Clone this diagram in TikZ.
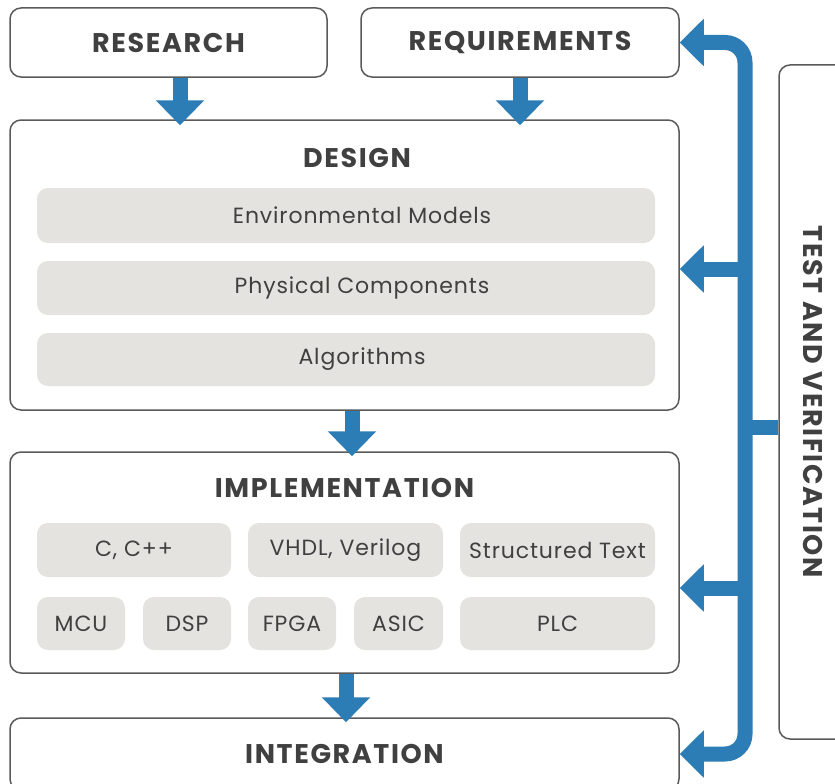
\documentclass[tikz,border=0pt]{standalone}
\usepackage{fontspec}
\setmainfont{Poppins}
\newfontfamily\titleFont{Poppins}[LetterSpace=6]
\newfontfamily\pillFont{Poppins}[LetterSpace=4]
\usetikzlibrary{arrows.meta}

\definecolor{flowBlue}{RGB}{44,125,181}
\definecolor{lineGray}{RGB}{90,90,90}
\definecolor{pillGray}{RGB}{228,227,223}
\definecolor{textGray}{RGB}{64,64,64}

\begin{document}
\begin{tikzpicture}[
    x=1pt, y=-1pt, every node/.style={text=textGray, inner sep=0pt},
    stageBox/.style={draw=lineGray, line width=1.5pt, rounded corners=11pt, fill=white},
    stageTitle/.style={font=\fontsize{27}{31}\titleFont\bfseries},
    pillNode/.style={fill=pillGray, rounded corners=11pt, font=\fontsize{22}{26}\pillFont},
    pillShift/.style={execute at begin node=\hspace*{32pt}},
    flow/.style={draw=flowBlue, line width=15pt},
    tipDown/.style={-{Triangle[width=47pt, length=25pt]}},
    tipBoth/.style={{Triangle[width=46pt, length=24pt]}-{Triangle[width=46pt, length=24pt]}}
]
    \clip (0,0) rectangle (835,784);
    \fill[white] (0,0) rectangle (835,784);

    % top row
    \node[stageBox, stageTitle, minimum width=317pt, minimum height=69pt] (research) at (168.5,42.5) {RESEARCH};
    \node[stageBox, stageTitle, minimum width=318pt, minimum height=69pt] (requirements) at (520,42.5) {REQUIREMENTS};

    % design
    \node[stageBox, minimum width=669pt, minimum height=290pt] (design) at (344.5,265) {};
    \node[stageTitle] (designTitle) at (357,158) {DESIGN};
    \node[pillNode, pillShift, minimum width=618pt, minimum height=55pt] (envModels) at (346,215.5) {Environmental Models};
    \node[pillNode, pillShift, minimum width=618pt, minimum height=54pt] (physComp) at (346,288) {Physical Components};
    \node[pillNode, pillShift, minimum width=618pt, minimum height=53pt] (algorithms) at (346,359.5) {Algorithms};

    % implementation
    \node[stageBox, minimum width=669pt, minimum height=221pt] (impl) at (344.5,562.5) {};
    \node[stageTitle] (implTitle) at (344.5,488) {IMPLEMENTATION};
    \node[pillNode, minimum width=194pt, minimum height=54pt] (cLang) at (134,550) {C, C++};
    \node[pillNode, minimum width=195pt, minimum height=54pt] (hdl) at (345.5,550) {VHDL, Verilog};
    \node[pillNode, minimum width=195pt, minimum height=54pt] (stText) at (557.5,550) {Structured Text};
    \node[pillNode, minimum width=88pt, minimum height=53pt] (mcu) at (81,623.5) {MCU};
    \node[pillNode, minimum width=88pt, minimum height=53pt] (dsp) at (187,623.5) {DSP};
    \node[pillNode, minimum width=88pt, minimum height=53pt] (fpga) at (292,623.5) {FPGA};
    \node[pillNode, minimum width=89pt, minimum height=53pt] (asic) at (398.5,623.5) {ASIC};
    \node[pillNode, minimum width=195pt, minimum height=53pt] (plc) at (557.5,623.5) {PLC};

    % integration + test
    \node[stageBox, stageTitle, minimum width=669pt, minimum height=72pt] (integration) at (344.5,754) {INTEGRATION};
    \node[stageBox, minimum width=68pt, minimum height=674pt] (test) at (813,402) {};
    \node[stageTitle, rotate=-90] (testTitle) at (test.center) {TEST AND VERIFICATION};

    % downward flow
    \draw[flow, tipDown] ([xshift=11.5pt]research.south) -- ([xshift=11.5pt, yshift=-6pt]research.south |- design.north);
    \draw[flow, tipDown] (requirements.south) -- ([yshift=-6pt]requirements.south |- design.north);
    \draw[flow, tipDown] ([xshift=7.5pt]design.south) -- ([xshift=7.5pt, yshift=-5pt]design.south |- impl.north);
    \draw[flow, tipDown] ([xshift=1.5pt]impl.south) -- ([xshift=1.5pt, yshift=-5pt]impl.south |- integration.north);

    % feedback bus
    \coordinate (busTop) at (745,42.5);
    \coordinate (busBottom) at (745,754);
    \draw[flow, tipBoth, rounded corners=20pt] (requirements.east) -- (busTop) -- (busBottom) -- (integration.east);
    \draw[flow, -{Triangle[width=46pt, length=24pt]}] (busTop |- design.east) ++(0,4) -- ([yshift=-4pt]design.east);
    \draw[flow, -{Triangle[width=46pt, length=24pt]}] (busTop |- impl.east) ++(0,25.5) -- ([yshift=-25.5pt]impl.east);
    \draw[flow] (busTop |- test.west) ++(0,25) -- ([yshift=-25pt]test.west);
\end{tikzpicture}
\end{document}
